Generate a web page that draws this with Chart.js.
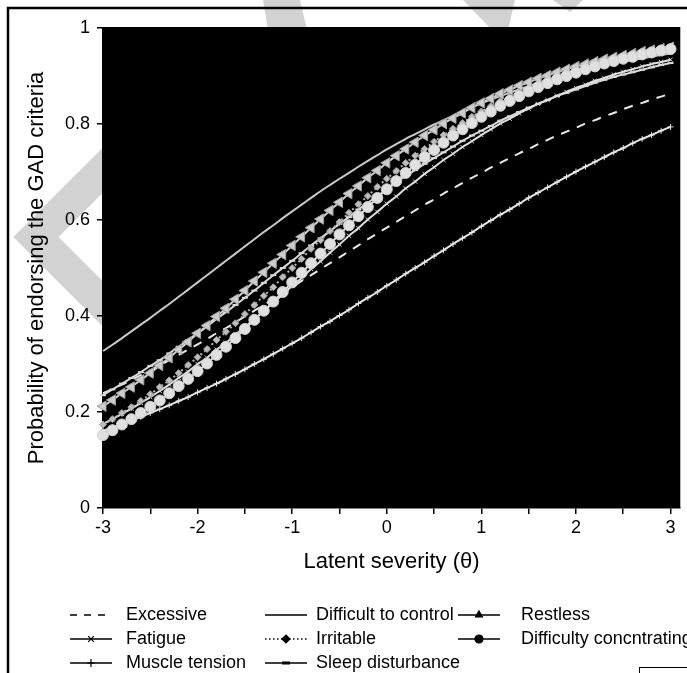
<!DOCTYPE html>
<html>
<head>
<meta charset="utf-8">
<script src="https://cdn.jsdelivr.net/npm/chart.js@4.4.1/dist/chart.umd.min.js"></script>
<style>
  html, body { margin: 0; padding: 0; background: #fff; }
  #wrap { width: 687px; height: 673px; position: relative; }
</style>
</head>
<body>
<div id="wrap"><canvas id="chart"></canvas></div>
<script>
// latent severity grid (x) and probability curves
var theta = [-3, -2.9, -2.8, -2.7, -2.6, -2.5, -2.4, -2.3, -2.2, -2.1, -2, -1.9, -1.8, -1.7, -1.6, -1.5,
  -1.4, -1.3, -1.2, -1.1, -1, -0.9, -0.8, -0.7, -0.6, -0.5, -0.4, -0.3, -0.2, -0.1, 0,
  0.1, 0.2, 0.3, 0.4, 0.5, 0.6, 0.7, 0.8, 0.9, 1, 1.1, 1.2, 1.3, 1.4, 1.5,
  1.6, 1.7, 1.8, 1.9, 2, 2.1, 2.2, 2.3, 2.4, 2.5, 2.6, 2.7, 2.8, 2.9, 3]

var excessive = [0.239, 0.248, 0.257, 0.267, 0.277, 0.287, 0.297, 0.308, 0.319, 0.330, 0.341, 0.352, 0.364, 0.375, 0.387, 0.399,
  0.411, 0.423, 0.435, 0.448, 0.460, 0.473, 0.485, 0.498, 0.510, 0.522, 0.535, 0.547, 0.560, 0.572, 0.584,
  0.596, 0.608, 0.620, 0.632, 0.643, 0.655, 0.666, 0.677, 0.688, 0.698, 0.709, 0.719, 0.729, 0.739, 0.748,
  0.758, 0.767, 0.776, 0.784, 0.792, 0.801, 0.808, 0.816, 0.823, 0.831, 0.838, 0.844, 0.851, 0.857, 0.863]
var difficultToControl = [0.327, 0.340, 0.354, 0.368, 0.382, 0.396, 0.411, 0.425, 0.440, 0.455, 0.470, 0.485, 0.500, 0.515, 0.530, 0.545,
  0.560, 0.575, 0.589, 0.604, 0.618, 0.632, 0.646, 0.660, 0.673, 0.686, 0.698, 0.711, 0.723, 0.735, 0.747,
  0.758, 0.769, 0.779, 0.789, 0.799, 0.808, 0.817, 0.826, 0.835, 0.843, 0.851, 0.858, 0.865, 0.872, 0.879,
  0.885, 0.891, 0.897, 0.902, 0.907, 0.912, 0.917, 0.922, 0.926, 0.930, 0.933, 0.937, 0.940, 0.944, 0.947]
var restless = [0.212, 0.225, 0.239, 0.252, 0.267, 0.281, 0.297, 0.313, 0.330, 0.346, 0.364, 0.380, 0.399, 0.416, 0.435, 0.453,
  0.473, 0.491, 0.510, 0.528, 0.547, 0.565, 0.584, 0.602, 0.620, 0.637, 0.655, 0.671, 0.688, 0.703, 0.719,
  0.734, 0.748, 0.762, 0.776, 0.788, 0.801, 0.812, 0.823, 0.834, 0.844, 0.853, 0.863, 0.871, 0.880, 0.887,
  0.895, 0.901, 0.908, 0.914, 0.920, 0.925, 0.930, 0.935, 0.939, 0.943, 0.947, 0.951, 0.954, 0.957, 0.960]
var fatigue = [0.175, 0.185, 0.196, 0.207, 0.219, 0.231, 0.244, 0.257, 0.271, 0.284, 0.300, 0.313, 0.330, 0.344, 0.361, 0.377,
  0.394, 0.410, 0.428, 0.444, 0.463, 0.479, 0.498, 0.514, 0.532, 0.549, 0.567, 0.583, 0.601, 0.617, 0.634,
  0.649, 0.666, 0.680, 0.696, 0.710, 0.725, 0.738, 0.752, 0.764, 0.777, 0.789, 0.801, 0.811, 0.822, 0.832,
  0.842, 0.850, 0.859, 0.867, 0.875, 0.882, 0.890, 0.896, 0.903, 0.909, 0.914, 0.920, 0.925, 0.929, 0.934]
var irritable = [0.174, 0.185, 0.198, 0.210, 0.223, 0.237, 0.252, 0.266, 0.281, 0.298, 0.314, 0.331, 0.350, 0.367, 0.385, 0.404,
  0.423, 0.442, 0.460, 0.481, 0.500, 0.519, 0.540, 0.558, 0.577, 0.596, 0.615, 0.633, 0.650, 0.669, 0.686,
  0.702, 0.719, 0.734, 0.748, 0.763, 0.777, 0.790, 0.802, 0.815, 0.826, 0.837, 0.848, 0.857, 0.866, 0.875,
  0.884, 0.892, 0.898, 0.906, 0.912, 0.918, 0.924, 0.929, 0.934, 0.939, 0.943, 0.947, 0.951, 0.954, 0.958]
var concentrating = [0.152, 0.162, 0.174, 0.185, 0.198, 0.211, 0.224, 0.239, 0.254, 0.269, 0.285, 0.301, 0.319, 0.336, 0.354, 0.373,
  0.392, 0.411, 0.430, 0.450, 0.470, 0.490, 0.510, 0.530, 0.550, 0.570, 0.589, 0.608, 0.627, 0.646, 0.664,
  0.681, 0.698, 0.715, 0.731, 0.746, 0.761, 0.776, 0.789, 0.802, 0.815, 0.826, 0.838, 0.848, 0.858, 0.868,
  0.877, 0.885, 0.893, 0.900, 0.907, 0.914, 0.920, 0.926, 0.931, 0.936, 0.940, 0.945, 0.949, 0.953, 0.956]
var muscleTension = [0.161, 0.168, 0.175, 0.182, 0.190, 0.198, 0.206, 0.214, 0.223, 0.231, 0.241, 0.250, 0.259, 0.269, 0.279, 0.289,
  0.300, 0.310, 0.321, 0.332, 0.343, 0.354, 0.366, 0.378, 0.389, 0.401, 0.413, 0.426, 0.438, 0.450, 0.463,
  0.475, 0.488, 0.500, 0.512, 0.525, 0.537, 0.550, 0.562, 0.574, 0.587, 0.599, 0.611, 0.622, 0.634, 0.646,
  0.657, 0.668, 0.679, 0.690, 0.701, 0.711, 0.721, 0.731, 0.741, 0.750, 0.760, 0.769, 0.777, 0.786, 0.794]
var sleepDisturbance = [0.235, 0.247, 0.259, 0.271, 0.283, 0.296, 0.308, 0.322, 0.336, 0.350, 0.364, 0.378, 0.394, 0.408, 0.423, 0.438,
  0.453, 0.469, 0.485, 0.500, 0.515, 0.531, 0.547, 0.562, 0.577, 0.592, 0.606, 0.622, 0.636, 0.650, 0.664,
  0.678, 0.692, 0.704, 0.717, 0.729, 0.741, 0.753, 0.765, 0.776, 0.786, 0.796, 0.807, 0.816, 0.825, 0.834,
  0.842, 0.850, 0.858, 0.865, 0.872, 0.879, 0.886, 0.892, 0.898, 0.903, 0.908, 0.913, 0.918, 0.923, 0.927]

var xTickValues = [-3, -2.5, -2, -1.5, -1, -0.5, 0, 0.5, 1, 1.5, 2, 2.5, 3]
var yTickValues = [0, 0.2, 0.4, 0.6, 0.8, 1]

var FONT = '"Liberation Sans", Arial, Helvetica, sans-serif'
Chart.defaults.font.family = FONT
Chart.defaults.color = '#000'

function series(label, values, style) {
  return Object.assign({
    label: label,
    data: values.map(function(v, i) { return { x: theta[i], y: v } }),
    borderWidth: 2,
    pointBorderWidth: 1,
    pointRadius: 0,
    fill: false,
    clip: false
  }, style)
}

// legend order = array order (3 columns)
var datasets = [
  series('Excessive', excessive, { borderColor: '#e8e8e8', borderDash: [9, 8], order: 8, legendDash: [7, 7] }),
  series('Difficult to control', difficultToControl, { borderColor: '#c9c9c9', order: 7 }),
  series('Restless', restless, { borderColor: '#d2d2d2', pointStyle: 'triangle', pointRotation: -90, pointRadius: 6,
    pointBackgroundColor: '#cdcdcd', pointBorderColor: '#a0a0a0', order: 2 }),
  series('Fatigue', fatigue, { borderColor: '#dedede', pointStyle: 'crossRot', pointRadius: 3,
    pointBorderColor: '#dedede', order: 4 }),
  series('Irritable', irritable, { borderColor: '#b8b8b8', borderDash: [2, 3], pointStyle: 'rectRot', pointRadius: 3.5,
    pointBackgroundColor: '#bdbdbd', pointBorderColor: '#9c9c9c', order: 3, legendDash: [1.5, 2.5] }),
  series('Difficulty concntrating', concentrating, { borderColor: '#e2e2e2', pointStyle: 'circle', pointRadius: 5.5,
    pointBackgroundColor: '#e0e0e0', pointBorderColor: '#cfcfcf', order: 1 }),
  series('Muscle tension', muscleTension, { borderColor: '#e6e6e6', pointStyle: 'cross', pointRadius: 3,
    pointBorderColor: '#e6e6e6', order: 6 }),
  series('Sleep disturbance', sleepDisturbance, { borderColor: '#d8d8d8', pointStyle: 'line', pointRadius: 3,
    pointBorderWidth: 2, pointBorderColor: '#d8d8d8', order: 5, legendBorder: 3 })
]

// grey watermark, outer frame and black plot area
var backdrop = {
  id: 'backdrop',
  beforeDraw: function(chart) {
    var ctx = chart.ctx, a = chart.chartArea
    ctx.save()
    ctx.fillStyle = '#fff'
    ctx.fillRect(0, 0, chart.width, chart.height)

    ctx.strokeStyle = '#d2d2d2'
    ctx.fillStyle = '#d2d2d2'
    ctx.lineWidth = 32
    ctx.lineJoin = 'miter'
    ctx.beginPath()
    ctx.moveTo(140, 133)
    ctx.lineTo(36, 237)
    ctx.lineTo(140, 341)
    ctx.stroke()
    ctx.beginPath()
    ctx.moveTo(263, 0); ctx.lineTo(300, 0); ctx.lineTo(307, 30); ctx.lineTo(268, 30)
    ctx.fill()
    ctx.beginPath()
    ctx.moveTo(463, 0); ctx.lineTo(515, 0); ctx.lineTo(508, 30); ctx.lineTo(492, 30)
    ctx.fill()
    ctx.beginPath()
    ctx.moveTo(553, 0); ctx.lineTo(583, 0); ctx.lineTo(570, 12)
    ctx.fill()

    ctx.strokeStyle = '#000'
    ctx.lineWidth = 2.5
    ctx.beginPath()
    ctx.moveTo(8, chart.height); ctx.lineTo(8, 8); ctx.lineTo(chart.width, 8)
    ctx.stroke()
    ctx.lineWidth = 1
    ctx.strokeRect(639.5, 667.5, 60, 20)

    ctx.fillStyle = '#000'
    ctx.fillRect(a.left, a.top - 1, a.right - a.left, a.bottom - a.top + 1)
    ctx.strokeStyle = '#b5b5b5'
    ctx.beginPath()
    ctx.moveTo(a.right + 0.5, a.top - 1); ctx.lineTo(a.right + 0.5, a.bottom)
    ctx.stroke()
    ctx.restore()
  }
}

var bottomLegend = {
  id: 'bottomLegend',
  afterDraw: function(chart) {
    var ctx = chart.ctx
    var colX = [70, 265, 458]
    var textX = [126, 316, 521]
    var rowY = [615, 639, 663]
    ctx.save()
    ctx.font = '18px ' + FONT
    ctx.textBaseline = 'middle'
    chart.data.datasets.forEach(function(ds, i) {
      var col = i % 3, row = Math.floor(i / 3)
      var x = colX[col], y = rowY[row]
      ctx.strokeStyle = '#000'
      ctx.fillStyle = '#000'
      ctx.lineWidth = 1.5
      ctx.setLineDash(ds.legendDash || ds.borderDash || [])
      ctx.beginPath()
      ctx.moveTo(x, y); ctx.lineTo(x + 42, y)
      ctx.stroke()
      ctx.setLineDash([])
      if (ds.pointRadius > 0) {
        ctx.lineWidth = ds.legendBorder || 1.2
        Chart.helpers.drawPoint(ctx, { pointStyle: ds.pointStyle, rotation: 0, radius: 4, borderWidth: ctx.lineWidth }, x + 21, y)
      }
      ctx.fillText(ds.label, textX[col], y)
    })
    ctx.restore()
  }
}

new Chart(document.getElementById('chart'), {
  type: 'line',
  data: { datasets: datasets },
  plugins: [backdrop, bottomLegend],
  options: {
    responsive: true,
    maintainAspectRatio: false,
    devicePixelRatio: 1,
    animation: false,
    layout: { padding: { left: 20, top: 28, right: 5, bottom: 94 } },
    elements: { line: { cubicInterpolationMode: 'monotone' } },
    plugins: { legend: { display: false }, tooltip: { enabled: false } },
    scales: {
      x: {
        type: 'linear', min: -3, max: 3.1,
        afterBuildTicks: function(s) { s.ticks = xTickValues.map(function(v) { return { value: v } }) },
        afterFit: function(s) { s.height = 71 },
        ticks: {
          autoSkip: false, maxRotation: 0, padding: 3, font: { size: 18 }, color: '#000',
          callback: function(v) { return Number.isInteger(v) ? String(v) : '' }
        },
        grid: { drawOnChartArea: false, tickLength: 6, color: '#000', lineWidth: 1.5 },
        border: { color: '#000', width: 1.5 },
        title: { display: true, text: 'Latent severity (θ)', font: { size: 22 }, color: '#000', padding: { top: 4, bottom: 4 } }
      },
      y: {
        type: 'linear', min: 0, max: 1,
        afterBuildTicks: function(s) { s.ticks = yTickValues.map(function(v) { return { value: v } }) },
        afterFit: function(s) { s.width = 83 },
        ticks: {
          padding: 7, font: { size: 18 }, color: '#000',
          callback: function(v) { return String(v) }
        },
        grid: { drawOnChartArea: false, tickLength: 6, color: '#000', lineWidth: 1.5 },
        border: { color: '#000', width: 1.5 },
        title: { display: true, text: 'Probability of endorsing the GAD criteria', font: { size: 22 }, color: '#000', padding: { top: 4, bottom: 4 } }
      }
    }
  }
})
</script>
</body>
</html>
